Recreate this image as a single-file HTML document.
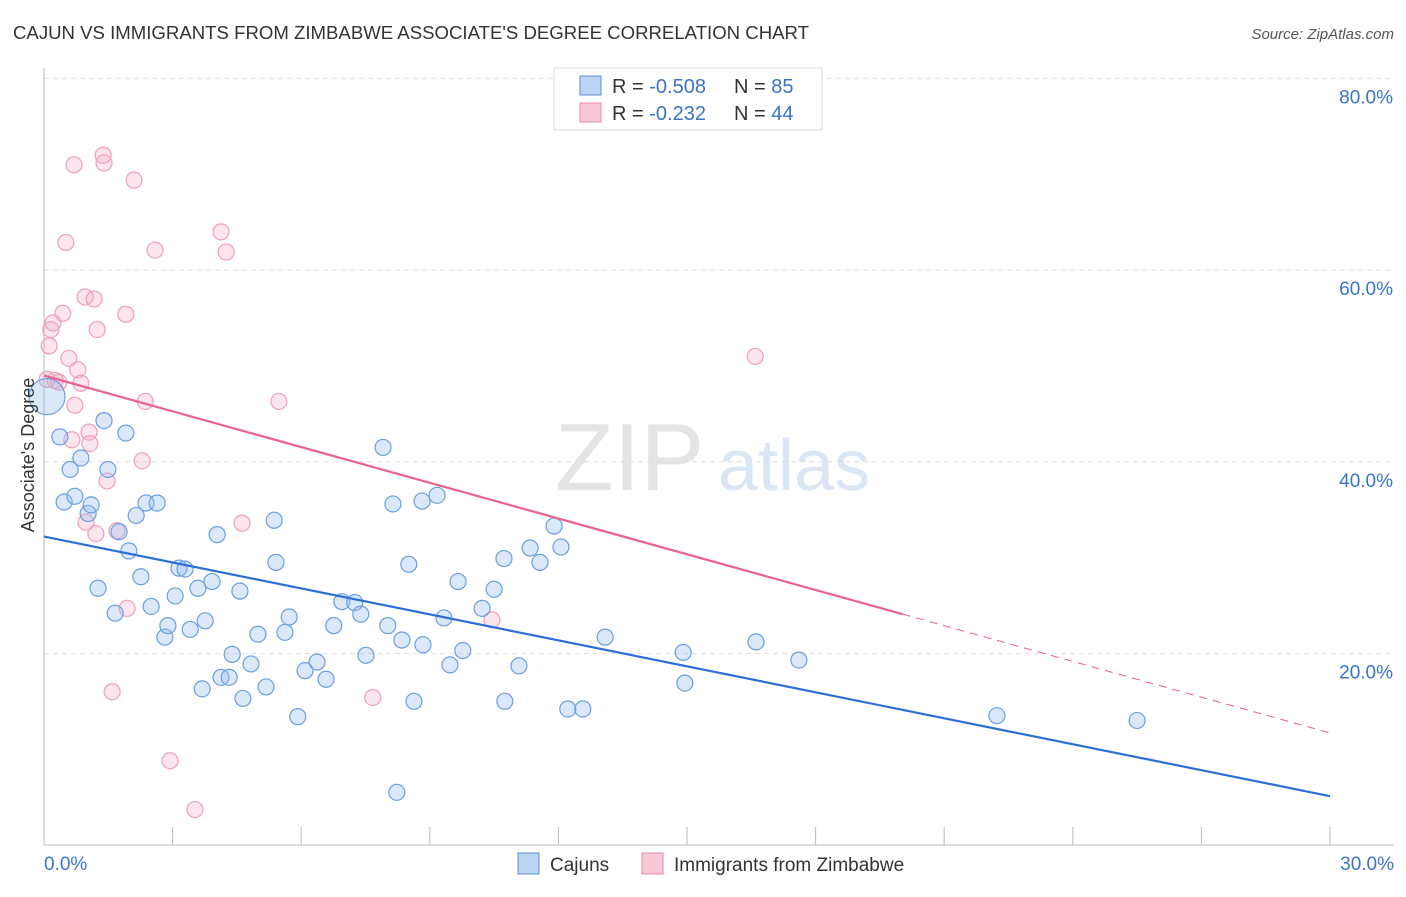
<!DOCTYPE html>
<html><head><meta charset="utf-8"><style>
body{margin:0;background:#fff;font-family:"Liberation Sans",sans-serif;}
svg text{font-family:"Liberation Sans",sans-serif;}
</style></head><body>
<svg id="chart" width="1406" height="892" viewBox="0 0 1406 892" xmlns="http://www.w3.org/2000/svg">
<text x="13" y="39" font-size="18" fill="#333" textLength="796" lengthAdjust="spacingAndGlyphs">CAJUN VS IMMIGRANTS FROM ZIMBABWE ASSOCIATE'S DEGREE CORRELATION CHART</text>
<text x="1394" y="39" font-size="15" fill="#555" text-anchor="end" font-style="italic">Source: ZipAtlas.com</text>
<text x="555" y="490" font-size="96" fill="#e4e4e4" font-family="Liberation Serif">ZIP</text>
<text x="718" y="490" font-size="72" fill="#dbe6f5">atlas</text>
<g id="grid"></g>
<g id="axes"></g>
<g id="marks"></g>
<text transform="translate(34,455) rotate(-90)" font-size="18" fill="#333" text-anchor="middle">Associate's Degree</text>
<g>
<rect x="554" y="68" width="268" height="62" fill="#fff" stroke="#ddd"/>
<rect x="580" y="76" width="21" height="19" fill="#bcd4f3" stroke="#5b8fd6"/>
<rect x="580" y="103" width="21" height="19" fill="#f9c8d6" stroke="#e98aa5"/>
<text x="612" y="93" font-size="20" fill="#333">R = <tspan fill="#3b73c8">-0.508</tspan></text>
<text x="734" y="93" font-size="20" fill="#333">N = <tspan fill="#3b73c8">85</tspan></text>
<text x="612" y="120" font-size="20" fill="#333">R = <tspan fill="#3b73c8"> -0.232</tspan></text>
<text x="734" y="120" font-size="20" fill="#333">N = <tspan fill="#3b73c8">44</tspan></text>
</g>
<g>
<rect x="518" y="853" width="21" height="21" fill="#bcd4f3" stroke="#5b8fd6"/>
<text x="550" y="871" font-size="19" fill="#333">Cajuns</text>
<rect x="642" y="853" width="21" height="21" fill="#f9c8d6" stroke="#e98aa5"/>
<text x="674" y="871" font-size="19" fill="#333">Immigrants from Zimbabwe</text>
</g>
</svg>
<script>
const blueX=[0.07,0.37,0.47,0.61,0.72,0.86,1.03,1.10,1.26,1.40,1.49,1.66,1.75,1.91,1.98,2.15,2.26,2.38,2.50,2.64,2.82,2.89,3.06,3.15,3.29,3.41,3.59,3.69,3.76,3.92,4.04,4.13,4.32,4.39,4.57,4.64,4.83,4.99,5.18,5.37,5.41,5.62,5.72,5.92,6.09,6.37,6.58,6.76,6.95,7.25,7.39,7.51,7.91,8.02,8.14,8.23,8.35,8.51,8.63,8.84,8.82,9.17,9.33,9.47,9.66,9.77,10.22,10.50,10.73,10.75,11.08,11.34,11.57,11.90,12.06,12.22,12.57,13.09,14.91,14.95,16.61,17.61,22.23,25.50];
const blueY=[46.8,42.6,35.8,39.2,36.4,40.4,34.6,35.5,26.8,44.3,39.2,24.2,32.7,43.0,30.7,34.4,28.0,35.7,24.9,35.7,21.7,22.9,26.0,28.9,28.8,22.5,26.8,16.3,23.4,27.5,32.4,17.5,17.5,19.9,26.5,15.3,18.9,22.0,16.5,33.9,29.5,22.2,23.8,13.4,18.2,19.1,17.3,22.9,25.4,25.3,24.1,19.8,41.5,22.9,35.6,5.5,21.4,29.3,15.0,20.9,35.9,36.5,23.7,18.8,27.5,20.3,24.7,26.7,29.9,15.0,18.7,31.0,29.5,33.3,31.1,14.2,14.2,21.7,20.1,16.9,21.2,19.3,13.5,13.0];
const pinkX=[0.07,0.12,0.16,0.21,0.26,0.35,0.44,0.51,0.58,0.65,0.70,0.72,0.79,0.86,0.96,0.98,1.05,1.07,1.17,1.21,1.24,1.38,1.40,1.47,1.59,1.70,1.91,1.94,2.10,2.29,2.36,2.59,2.94,3.52,4.13,4.25,4.62,5.48,7.67,10.45,16.59];
const pinkY=[48.6,52.1,53.8,54.5,48.5,48.3,55.5,62.9,50.8,42.3,71.0,45.9,49.6,48.2,57.2,33.7,43.1,41.9,57.0,32.5,53.8,72.0,71.2,38.0,16.0,32.8,55.4,24.7,69.4,40.1,46.3,62.1,8.8,3.7,64.0,61.9,33.6,46.3,15.4,23.5,51.0];
const blueTrend=[32.2,5.1];   // y at x=0 and x=30
const pinkTrend=[49.0,11.7];  // y at x=0 and x=30
const pinkSolidEnd=20.03;
const yTicks=[20,40,60,80];
const yTickLabels=["20.0%","40.0%","60.0%","80.0%"];
const xTicks=[0,3,6,9,12,15,18,21,24,27,30];

const NS="http://www.w3.org/2000/svg";
const X=v=>44+v*(1286/30);
const Y=v=>845-v*9.58;
function mk(tag,attrs,parent){const e=document.createElementNS(NS,tag);for(const k in attrs)e.setAttribute(k,attrs[k]);parent.appendChild(e);return e;}
const grid=document.getElementById('grid'),axes=document.getElementById('axes'),marks=document.getElementById('marks');
yTicks.forEach((t,i)=>{
  const l=mk('line',{x1:44,x2:1394,y1:Y(t),y2:Y(t),stroke:'#ddd','stroke-dasharray':'5,4'},grid);
  
  
  const tx=mk('text',{x:1393,y:Y(t)+25,'font-size':19,fill:'#3b73c8','text-anchor':'end'},axes);
  tx.textContent=yTickLabels[i];
  
  
});
const ya=mk('line',{x1:44,x2:44,y1:68,y2:845,stroke:'#bbb'},axes);


const xa=mk('line',{x1:44,x2:1394,y1:845,y2:845,stroke:'#bbb'},axes);


xTicks.forEach(t=>{
  const l=mk('line',{x1:X(t),x2:X(t),y1:827,y2:845,stroke:'#bbb'},axes);
  
  
});
const x0=mk('text',{x:44,y:870,'font-size':19,fill:'#3b73c8'},axes);x0.textContent="0.0%";


const x1=mk('text',{x:1394,y:870,'font-size':19,fill:'#3b73c8','text-anchor':'end'},axes);x1.textContent="30.0%";



pinkX.forEach((v,i)=>{
  const c=mk('circle',{cx:X(v),cy:Y(pinkY[i]),r:8,fill:'rgba(245,170,195,0.3)',stroke:'#eea0b8','stroke-width':1.2},marks);
  
  
});
blueX.forEach((v,i)=>{
  const c=mk('circle',{cx:X(v),cy:Y(blueY[i]),r:i===0?18:8,fill:'rgba(150,190,240,0.35)',stroke:'#6a9fe0','stroke-width':1.2},marks);
  
  
});
const bt=mk('line',{x1:X(0),y1:Y(blueTrend[0]),x2:X(30),y2:Y(blueTrend[1]),stroke:'#2b6fd6','stroke-width':2.2},marks);


const pAt=x=>pinkTrend[0]+(pinkTrend[1]-pinkTrend[0])*x/30;
const pt=mk('line',{x1:X(0),y1:Y(pAt(0)),x2:X(pinkSolidEnd),y2:Y(pAt(pinkSolidEnd)),stroke:'#e8628c','stroke-width':2.2},marks);


const pd=mk('line',{x1:X(pinkSolidEnd),y1:Y(pAt(pinkSolidEnd)),x2:X(30),y2:Y(pAt(30)),stroke:'#e8628c','stroke-width':1,'stroke-dasharray':'8,6'},marks);


</script>
</body></html>
